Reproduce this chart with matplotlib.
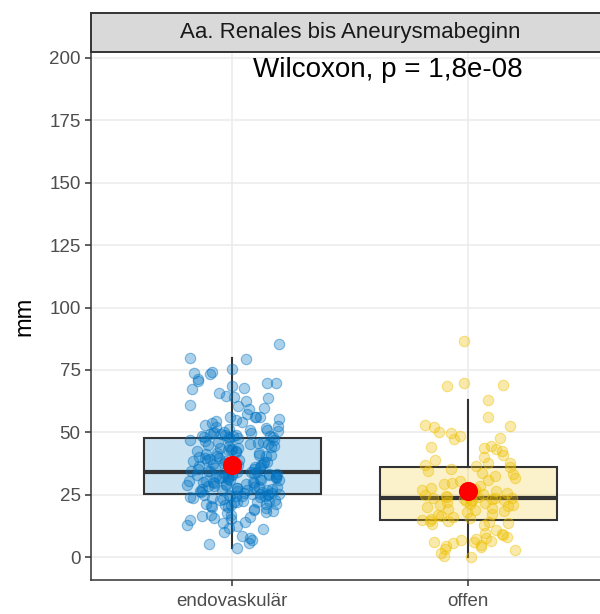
import numpy as np
import matplotlib
matplotlib.use("Agg")
import matplotlib.pyplot as plt
from matplotlib.colors import to_rgba

# distance Aa. renales -> aneurysm start (mm), per treatment group
groups = ["endovaskulär", "offen"]
endo_mm = [
    3.5, 5.1, 5.6, 6.9, 7.5, 8.4, 10.2, 11.4, 11.8, 12.5, 13.0, 13.8, 14.2, 14.8,
    15.2, 15.7, 16.1, 16.5, 16.9, 17.0, 17.6, 18.1, 18.3, 18.9, 19.4, 19.6, 20.0,
    20.1, 20.6, 20.8, 20.9, 21.1, 21.3, 21.4, 21.9, 22.0, 22.2, 22.4, 22.5, 22.9,
    23.0, 23.3, 23.6, 23.8, 24.0, 24.1, 24.3, 24.4, 24.5, 24.6, 24.8, 24.9, 25.0,
    25.1, 25.1,
    25.3, 25.4, 25.6, 25.8, 26.0, 26.1, 26.3, 26.5, 26.7, 26.8, 27.0, 27.2, 27.3,
    27.5, 27.7, 27.9, 28.0, 28.2, 28.4, 28.5, 28.8, 29.0, 29.1, 29.3, 29.5, 29.6,
    29.9, 30.0, 30.2, 30.4, 30.5, 30.7, 30.9, 31.0, 31.2, 31.4, 31.5, 31.7, 31.9,
    32.0, 32.2, 32.3, 32.5, 32.7, 32.8, 33.0, 33.1, 33.3, 33.4, 33.6, 33.7, 33.8,
    34.0, 34.1, 34.1,
    34.3, 34.5, 34.6, 34.9, 35.1, 35.3, 35.6, 35.8, 36.0, 36.2, 36.5, 36.7, 36.9,
    37.2, 37.4, 37.6, 37.9, 38.1, 38.3, 38.6, 38.8, 39.0, 39.3, 39.5, 39.8, 40.0,
    40.3, 40.5, 40.8, 41.0, 41.2, 41.5, 41.8, 42.0, 42.3, 42.5, 42.8, 43.0, 43.3,
    43.6, 43.8, 44.1, 44.4, 44.6, 44.9, 45.2, 45.5, 45.7, 46.0, 46.3, 46.5, 46.8,
    47.1, 47.4, 47.7,
    48.0, 48.1, 48.2, 48.4, 48.5, 48.7, 48.9, 49.0, 49.2, 49.5, 49.6, 49.8, 50.0,
    50.2, 50.5, 50.9, 51.0, 51.3, 51.6, 52.0, 52.5, 53.0, 53.6, 54.0, 54.6, 54.9,
    55.3, 56.0, 56.0, 56.0, 56.0, 57.2, 59.2, 59.6, 60.5, 60.9, 62.6, 63.6, 64.2,
    64.5, 65.6, 67.5, 67.6, 68.5, 69.6, 69.9, 70.7, 71.2, 73.2, 73.9, 74.1, 75.2,
    79.2, 79.9, 85.4,
]
offen_mm = [
    0.0, 0.3, 1.8, 2.9, 3.4, 4.1, 4.6, 4.8, 5.5, 5.9, 6.2, 6.4, 6.8, 7.3, 7.7,
    8.0, 8.9, 9.1, 9.6, 10.9, 12.9, 13.1, 13.6, 14.0, 14.3, 14.6,
    14.8, 15.1, 15.6, 16.0, 16.4, 17.0, 17.3, 17.9, 18.4, 18.8, 19.2, 19.6, 20.0,
    20.3, 20.7, 21.0, 21.4, 21.7, 22.0, 22.3, 22.6, 22.8, 23.0, 23.2, 23.4, 23.5,
    23.5, 23.7, 23.9, 24.2, 24.5, 24.8, 25.1, 25.5, 25.9, 26.3, 26.8, 27.2, 27.7,
    28.1, 28.6, 29.2, 29.8, 30.4, 31.0, 31.7, 32.4, 33.1, 33.8, 34.5, 35.2, 35.9,
    36.5, 37.0, 37.8, 37.8, 39.0, 40.2, 40.9, 42.6, 43.2, 43.6, 44.0, 44.5, 47.2,
    47.6, 48.5, 49.7, 50.0, 52.2, 52.5, 52.9, 56.2, 62.9, 68.5, 68.8, 69.6, 86.6,
]
group_colors = ["#0073C2", "#EFC000"]
panel_title = "Aa. Renales bis Aneurysmabeginn"
test_label = "Wilcoxon, p = 1,8e-08"
y_ticks = [0, 25, 50, 75, 100, 125, 150, 175, 200]

plt.rcParams["font.family"] = ["Liberation Sans", "DejaVu Sans"]

W, H = 600, 614
fig = plt.figure(figsize=(W / 100, H / 100), dpi=100)
ax = fig.add_axes([91 / W, (H - 580) / H, (609.6 - 91) / W, (580 - 52) / H])

dark = "#333333"
data = [np.array(endo_mm), np.array(offen_mm)]
pos = np.arange(1, len(groups) + 1)

bp = ax.boxplot(data, positions=pos, widths=0.75, whis=1.5, showfliers=False,
                showcaps=False, patch_artist=True, zorder=2,
                boxprops=dict(edgecolor=dark, linewidth=1.5),
                whiskerprops=dict(color=dark, linewidth=1.5),
                medianprops=dict(color=dark, linewidth=3.0))
for patch, c in zip(bp["boxes"], group_colors):
    patch.set_facecolor(to_rgba(c, 0.2))

# jittered raw values on top of the boxes
for x0, vals, c in zip(pos, data, group_colors):
    idx = np.arange(len(vals))
    jit = (np.modf(np.abs(np.sin(idx * 12.9898 + x0) * 43758.5453))[0] - 0.5) * 0.4
    ax.scatter(x0 + jit, vals, s=56, facecolor=to_rgba(c, 0.33),
               edgecolor=to_rgba(c, 0.45), linewidth=0.8, zorder=3)

# group means
means = [v.mean() for v in data]
ax.scatter(pos, means, s=190, color="red", zorder=4, linewidth=0)

ax.text(1.66, 195, test_label, ha="center", va="center", fontsize=20, color="black")

ax.set_xlim(0.4, 2.6)
ax.set_ylim(-9.2, 202.4)
ax.set_xticks(pos)
ax.set_xticklabels(groups)
ax.set_yticks(y_ticks)
ax.tick_params(axis="both", labelsize=13.5, labelcolor="#4D4D4D", color=dark,
               length=4, width=1.1)
ax.tick_params(axis="x", pad=5)
ax.grid(True, color="#EBEBEB", linewidth=1.1, zorder=0)
ax.set_axisbelow(True)
for side in ["left", "bottom"]:
    ax.spines[side].set_color(dark)
    ax.spines[side].set_linewidth(1.1)
for side in ["top", "right"]:
    ax.spines[side].set_visible(False)
ax.set_ylabel("mm", fontsize=17, color="black", labelpad=10)

# facet strip
strip = fig.add_axes([91 / W, (H - 52) / H, (609.6 - 91) / W, (52 - 13) / H])
strip.set_facecolor("#D9D9D9")
strip.set_xticks([])
strip.set_yticks([])
for s in strip.spines.values():
    s.set_color(dark)
    s.set_linewidth(1.4)
strip.text((350 - 91) / (609.6 - 91), 0.5, panel_title, transform=strip.transAxes,
           ha="center", va="center", fontsize=16, color="#1A1A1A")

fig.savefig("out.png", dpi=100)
